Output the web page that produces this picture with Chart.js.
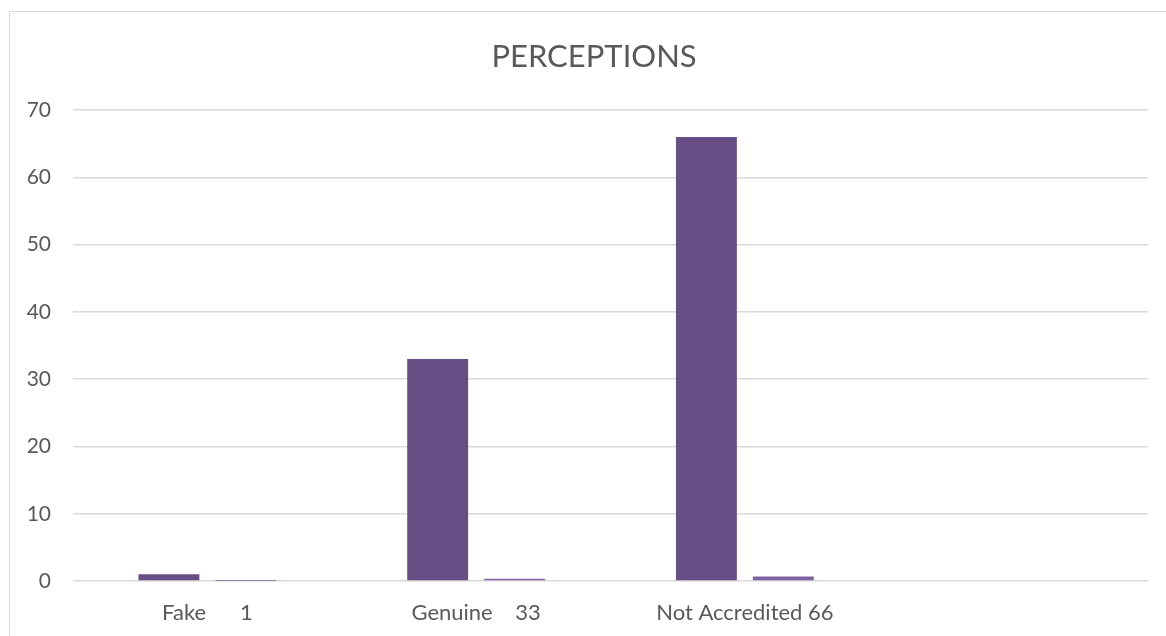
<!DOCTYPE html>
<html>
<head>
<meta charset="utf-8">
<script src="https://cdn.jsdelivr.net/npm/chart.js@4/dist/chart.umd.min.js"></script>
<style>
  html, body { margin: 0; padding: 0; background: #ffffff; overflow: hidden; }
  #frame {
    position: absolute; left: 9px; top: 11px;
    width: 1168px; height: 640px;
    border: 1px solid #d9d9d9; background: #ffffff;
  }
  canvas { display: block; }
</style>
</head>
<body>
<div id="frame"><canvas id="chart" width="1168" height="624"></canvas></div>
<script>
// Survey answers: how respondents perceive the institution
const categories = ['Fake      1', 'Genuine    33', 'Not Accredited 66', ''];
const counts = [1, 33, 66, null];
const shares = [0.01, 0.33, 0.66, null];
const yTicks = [0, 10, 20, 30, 40, 50, 60, 70];

const textColor = '#595959';
const gridColor = '#d9d9d9';
const fontFamily = 'Lato, "Open Sans", sans-serif';

new Chart(document.getElementById('chart'), {
  type: 'bar',
  data: {
    labels: categories,
    datasets: [
      { label: 'Count', data: counts, backgroundColor: '#674f86',
        categoryPercentage: 0.5725, barPercentage: 0.792 },
      { label: 'Share', data: shares, backgroundColor: '#8064a2',
        categoryPercentage: 0.5725, barPercentage: 0.792 }
    ]
  },
  options: {
    responsive: false,
    animation: false,
    layout: { padding: 0 },
    plugins: {
      legend: { display: false },
      tooltip: { enabled: false },
      title: {
        display: true,
        text: 'PERCEPTIONS',
        color: textColor,
        font: { family: fontFamily, size: 31, weight: 'normal' },
        padding: { top: 26, bottom: 35 }
      }
    },
    scales: {
      x: {
        grid: { display: false },
        border: { display: false },
        ticks: {
          color: textColor,
          font: { family: fontFamily, size: 22 },
          padding: 11,
          maxRotation: 0,
          autoSkip: false
        },
        afterFit(scale) { scale.height = 55; }
      },
      y: {
        min: 0,
        max: 70,
        afterBuildTicks(scale) { scale.ticks = yTicks.map(v => ({ value: v })); },
        grid: { color: gridColor, lineWidth: 1.5, drawTicks: false },
        border: { display: false },
        ticks: {
          color: textColor,
          font: { family: fontFamily, size: 21 },
          padding: 22
        },
        afterFit(scale) { scale.width = 63; }
      },
      // empty right-hand margin of the plot
      yRight: {
        position: 'right',
        min: 0,
        max: 70,
        grid: { display: false },
        border: { display: false },
        ticks: { display: false },
        afterFit(scale) { scale.width = 30; }
      }
    }
  }
});
</script>
</body>
</html>
